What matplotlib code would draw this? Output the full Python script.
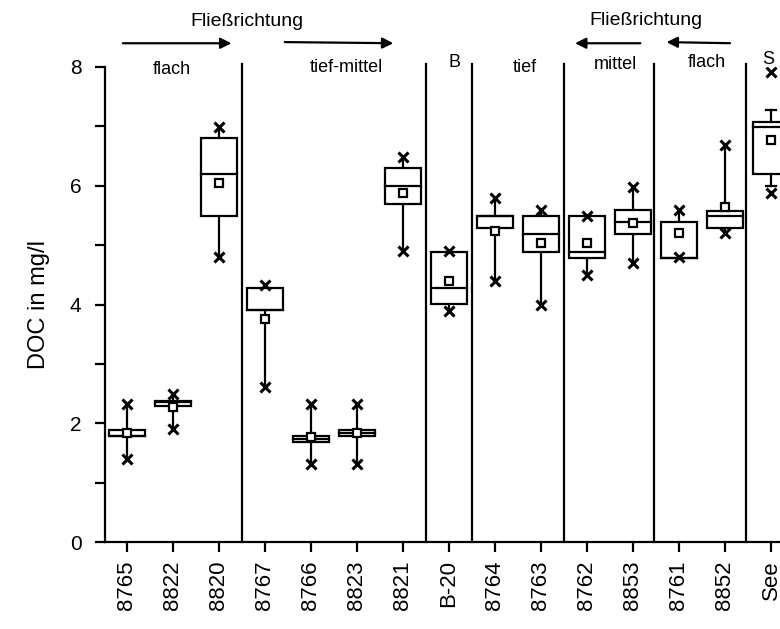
import matplotlib
matplotlib.use("Agg")
import matplotlib.pyplot as plt
from matplotlib.patches import Rectangle

plt.rcParams['font.family'] = ['Liberation Sans', 'DejaVu Sans']

# Messstellen und Boxplot-Kennwerte (DOC in mg/l)
labels = ['8765', '8822', '8820', '8767', '8766', '8823', '8821', 'B-20',
          '8764', '8763', '8762', '8853', '8761', '8852', 'See']
q1 = [1.78, 2.29, 5.49, 3.91, 1.68, 1.78, 5.69, 4.01, 5.29, 4.88, 4.78, 5.19, 4.78, 5.29, 6.20]
q3 = [1.89, 2.38, 6.80, 4.28, 1.78, 1.89, 6.30, 4.88, 5.49, 5.49, 5.49, 5.59, 5.39, 5.58, 7.07]
med = [1.78, 2.35, 6.20, 3.91, 1.73, 1.84, 5.99, 4.28, 5.49, 5.19, 4.88, 5.39, 4.78, 5.49, 6.99]
mean = [1.83, 2.27, 6.05, 3.75, 1.77, 1.84, 5.88, 4.39, 5.24, 5.04, 5.04, 5.37, 5.20, 5.64, 6.77]
whisk_lo = [1.40, 1.91, 4.80, 2.61, 1.31, 1.31, 4.90, 3.89, 4.39, 3.99, 4.50, 4.70, 4.80, 5.20, 5.99]
whisk_hi = [2.32, 2.50, 6.99, 4.33, 2.32, 2.32, 6.48, 4.90, 5.79, 5.59, 5.49, 5.98, 5.59, 6.68, 7.27]
vmin = [1.40, 1.91, 4.80, 2.61, 1.31, 1.31, 4.90, 3.89, 4.39, 3.99, 4.50, 4.70, 4.80, 5.20, 5.87]
vmax = [2.32, 2.50, 6.99, 4.33, 2.32, 2.32, 6.48, 4.90, 5.79, 5.59, 5.49, 5.98, 5.59, 6.68, 7.91]

# Gruppengrenzen und -namen
seps = [2.5, 6.5, 7.5, 9.5, 11.45, 13.45]
groups = ['flach', 'tief-mittel', 'B', 'tief', 'mittel', 'flach', 'S']
group_x = [0.98, 4.78, 7.11, 8.65, 10.61, 12.6, 13.93]
group_y = [7.95, 8.0, 8.07, 8.0, 8.04, 8.08, 8.12]

fig = plt.figure(figsize=(7.8, 6.29), dpi=100)
ax = fig.add_axes([105 / 780, 87 / 629, 675 / 780, 475 / 629])

w = 0.4
lw = 1.6
for i in range(len(labels)):
    ax.plot([i, i], [whisk_lo[i], q1[i]], color='black', lw=lw, zorder=2)
    ax.plot([i, i], [q3[i], whisk_hi[i]], color='black', lw=lw, zorder=2)
    # Endstriche nur, wenn sie nicht mit Min/Max zusammenfallen
    if whisk_lo[i] != vmin[i]:
        ax.plot([i - 0.1, i + 0.1], [whisk_lo[i], whisk_lo[i]], color='black', lw=lw, zorder=2)
    if whisk_hi[i] != vmax[i]:
        ax.plot([i - 0.1, i + 0.1], [whisk_hi[i], whisk_hi[i]], color='black', lw=lw, zorder=2)
    ax.add_patch(Rectangle((i - w, q1[i]), 2 * w, q3[i] - q1[i], facecolor='white',
                           edgecolor='black', lw=lw, zorder=3))
    ax.plot([i - w, i + w], [med[i], med[i]], color='black', lw=lw, zorder=4)
    ax.plot(i, mean[i], marker='s', ms=6, mfc='white', mec='black', mew=1.6, zorder=5)
    ax.plot([i, i], [vmin[i], vmax[i]], ls='none', marker='x', ms=7.5, mec='black',
            mew=2.2, zorder=5)

for s in seps:
    ax.plot([s, s], [0, 8.05], color='black', lw=lw, clip_on=False, zorder=1)

for g, gx, gy in zip(groups, group_x, group_y):
    ax.text(gx, gy, g, ha='center', va='center', fontsize=13, clip_on=False)

# Fließrichtung
ax.text(2.61, 8.77, 'Fließrichtung', ha='center', va='center', fontsize=14)
ax.text(11.28, 8.79, 'Fließrichtung', ha='center', va='center', fontsize=14)
arrow = dict(arrowstyle='-|>', color='black', lw=1.6, mutation_scale=16)
ax.annotate('', xy=(2.33, 8.4), xytext=(-0.15, 8.4), arrowprops=arrow, annotation_clip=False)
ax.annotate('', xy=(5.85, 8.4), xytext=(3.37, 8.42), arrowprops=arrow, annotation_clip=False)
ax.annotate('', xy=(9.68, 8.4), xytext=(11.22, 8.4), arrowprops=arrow, annotation_clip=False)
ax.annotate('', xy=(11.67, 8.42), xytext=(13.17, 8.4), arrowprops=arrow, annotation_clip=False)

ax.set_xlim(-0.478, 14.196)
ax.set_ylim(0, 8)
ax.set_xticks(range(len(labels)))
ax.set_xticklabels(labels, rotation=90, fontsize=16)
ax.set_yticks([0, 2, 4, 6, 8])
ax.set_yticks([1, 3, 5, 7], minor=True)
ax.tick_params(axis='y', which='both', direction='out', length=7, width=1.6,
               labelsize=15, pad=10)
ax.tick_params(axis='x', direction='out', length=7, width=1.6, pad=6)
ax.set_ylabel('DOC in mg/l', fontsize=17, labelpad=14)

for side in ['top', 'right']:
    ax.spines[side].set_visible(False)
for side in ['left', 'bottom']:
    ax.spines[side].set_linewidth(1.6)

fig.savefig('out.png', dpi=100)
